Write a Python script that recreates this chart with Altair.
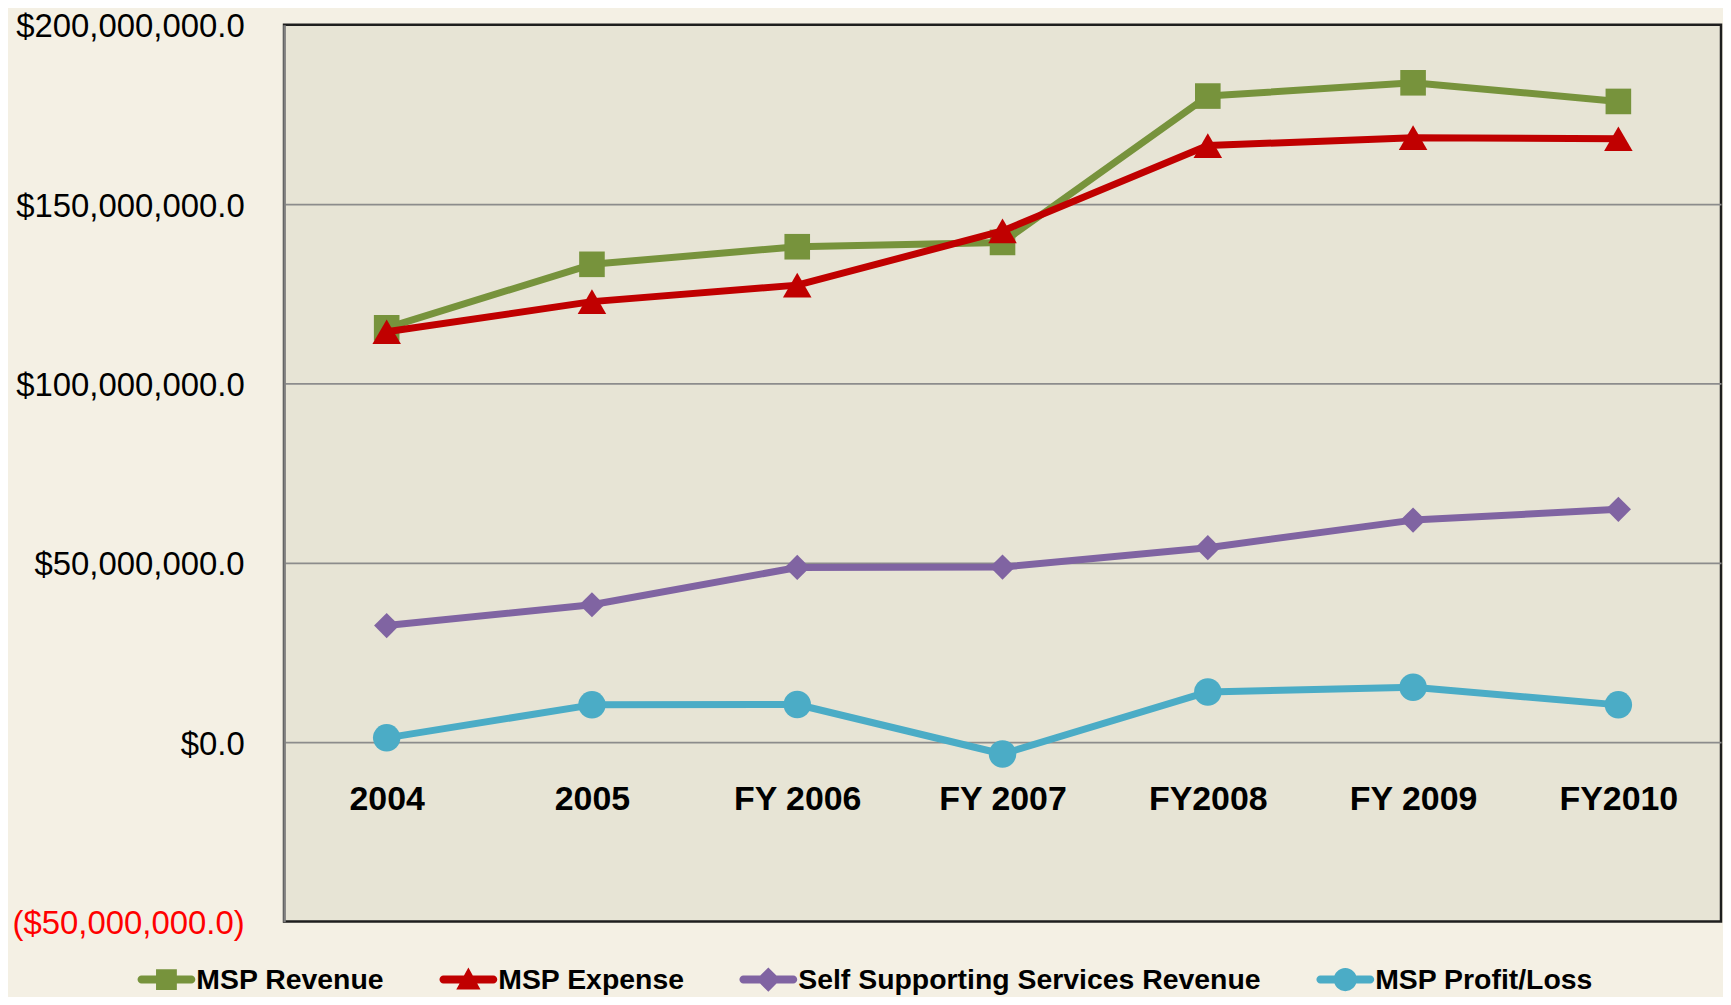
import altair as alt
import pandas as pd

# ---- data ----
years = ["2004", "2005", "FY 2006", "FY 2007", "FY2008", "FY 2009", "FY2010"]
series_names = ["MSP Revenue", "MSP Expense", "Self Supporting Services Revenue", "MSP Profit/Loss"]
msp_revenue = [115.5e6, 133.2e6, 138.1e6, 139.3e6, 180.1e6, 183.8e6, 178.6e6]
msp_expense = [114.4e6, 122.8e6, 127.4e6, 142.5e6, 166.3e6, 168.5e6, 168.2e6]
self_supporting = [32.5e6, 38.3e6, 48.7e6, 48.8e6, 54.2e6, 61.9e6, 64.9e6]
profit_loss = [1.2e6, 10.4e6, 10.5e6, -3.3e6, 14.0e6, 15.3e6, 10.4e6]
y_ticks = [-50e6, 0, 50e6, 100e6, 150e6, 200e6]

values = [msp_revenue, msp_expense, self_supporting, profit_loss]
rows = []
for name, vals in zip(series_names, values):
    for yr, v in zip(years, vals):
        rows.append({"year": yr, "series": name, "value": v})
df = pd.DataFrame(rows)

# ---- styling ----
colors = ["#77933C", "#C00000", "#8064A2", "#4BACC6"]
shapes = ["square", "triangle-up", "diamond", "circle"]
sizes = [660, 820, 640, 760]

line_part = "M-0.862,-0.138L0.862,-0.138A0.138,0.138 0 0 1 0.862,0.138L-0.862,0.138A0.138,0.138 0 0 1 -0.862,-0.138Z"
marker_parts = [
    "M-0.36,-0.36H0.36V0.36H-0.36Z",
    "M0,-0.42L0.42,0.34L-0.42,0.34Z",
    "M0,-0.42L0.42,0L0,0.42L-0.42,0Z",
    "M-0.4,0A0.4,0.4 0 1 1 0.4,0A0.4,0.4 0 1 1 -0.4,0Z",
]
legend_shapes = [line_part + mk for mk in marker_parts]

x_enc = alt.X(
    "year:N",
    sort=years,
    scale=alt.Scale(type="point", padding=0.5, domain=years),
    axis=alt.Axis(
        title=None,
        orient="bottom",
        offset=-180,
        domain=False,
        ticks=False,
        tickSize=0,
        grid=False,
        labelAngle=0,
        labelFont="Liberation Sans",
        labelFontWeight="bold",
        labelFontSize=34,
        labelColor="#000000",
        labelPadding=41,
    ),
)

y_enc = alt.Y(
    "value:Q",
    scale=alt.Scale(domain=[-50e6, 200e6], nice=False, zero=False),
    axis=alt.Axis(
        title=None,
        values=y_ticks,
        labelExpr="datum.value < 0 ? '($' + format(-datum.value, ',.1f') + ')' : '$' + format(datum.value, ',.1f')",
        labelColor={"condition": {"test": "datum.value < 0", "value": "#FF0000"}, "value": "#000000"},
        labelFont="Liberation Sans",
        labelFontSize=33,
        labelPadding=40,
        labelOffset=2,
        labelLimit=0,
        ticks=False,
        tickSize=0,
        domain=True,
        domainColor="#808080",
        domainWidth=2.5,
        grid=True,
        gridColor={"condition": {"test": "datum.value < 0 || datum.value > 1.9e8", "value": "transparent"}, "value": "#8C8C8C"},
        gridWidth=1.8,
    ),
)

layers = []
for name, col, shp, sz in zip(series_names, colors, shapes, sizes):
    base = alt.Chart(df).transform_filter(alt.datum.series == name)
    layers.append(
        base.mark_line(color=col, strokeWidth=7, strokeJoin="round", strokeCap="round").encode(
            x=x_enc, y=y_enc
        )
    )
    layers.append(
        base.mark_point(color=col, shape=shp, size=sz, filled=True, opacity=1, strokeWidth=0).encode(
            x=x_enc, y=y_enc
        )
    )

legend = alt.Legend(
    title=None,
    orient="none",
    legendX=-147,
    legendY=929,
    direction="horizontal",
    columns=4,
    padding=0,
    columnPadding=54,
    labelFont="Liberation Sans",
    labelFontWeight="bold",
    labelFontSize=28.5,
    labelColor="#000000",
    labelLimit=0,
    labelOffset=1,
    symbolSize=3364,
    symbolStrokeWidth=0,
    symbolOpacity=1,
)

legend_layer = alt.Chart(df).mark_point(filled=True, opacity=0, size=3364, strokeWidth=0).encode(
    x=x_enc,
    y=y_enc,
    color=alt.Color("series:N", scale=alt.Scale(domain=series_names, range=colors), legend=legend),
    shape=alt.Shape("series:N", scale=alt.Scale(domain=series_names, range=legend_shapes), legend=legend),
)
layers.insert(0, legend_layer)

chart = (
    alt.layer(*layers)
    .properties(
        width=1442,
        height=900,
        autosize=alt.AutoSizeParams(type="none"),
        padding={"left": 277, "top": 15, "right": 2, "bottom": 74},
        background="#F4F0E4",
    )
    .configure_view(fill="#E7E4D5", stroke="#1E1E1E", strokeWidth=2.5)
)

chart.save("out.html", embed_options={"renderer": "svg", "actions": False})
